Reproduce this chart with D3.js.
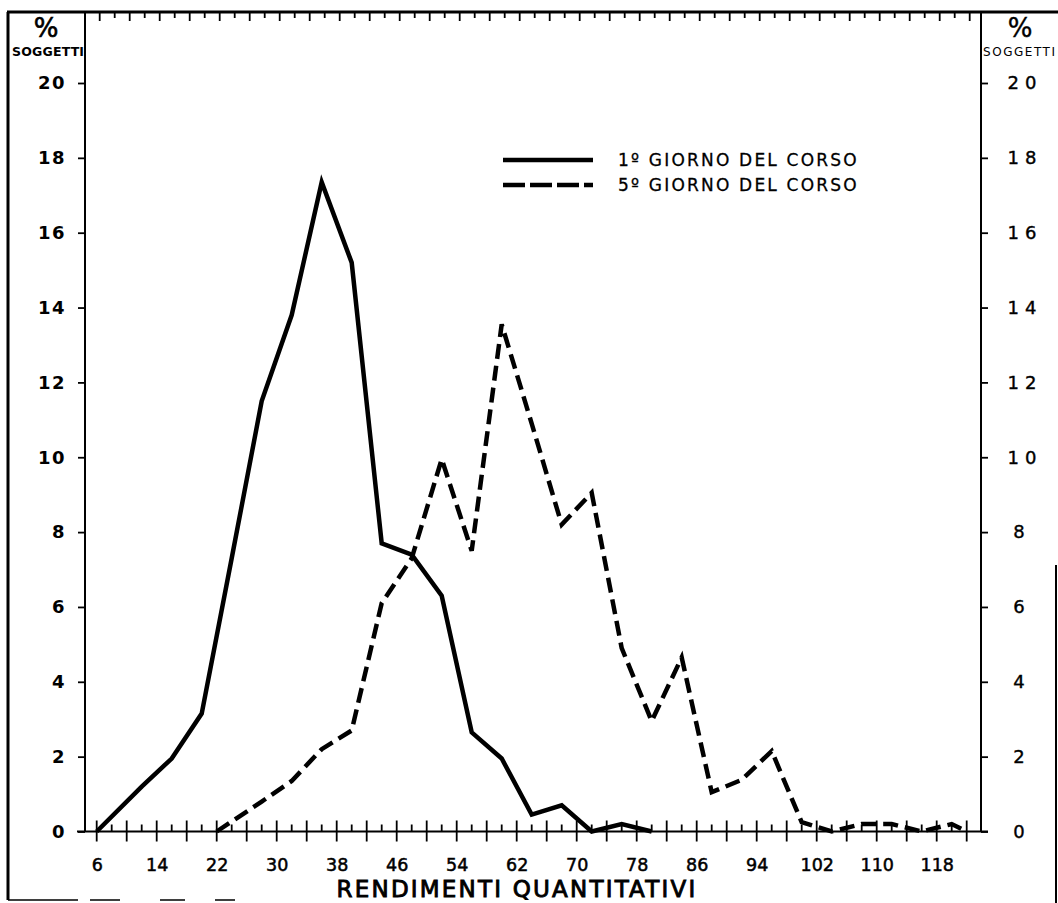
<!DOCTYPE html>
<html>
<head>
  <meta charset="utf-8">
  <title>Rendimenti quantitativi</title>
  <script src="https://d3js.org/d3.v7.min.js"></script>
  <style>
    body { margin: 0; background: #fff; }
    svg { display: block; }
    text { font-family: "DejaVu Sans", sans-serif; fill: #000; }
  </style>
</head>
<body>
<div id="chart"></div>
<script>
// data: % of subjects per score class
var giorno1X = [6, 12, 16, 20, 24, 28, 32, 36, 40, 44, 48, 52, 56, 60, 64, 68, 72, 76, 80];
var giorno1Y = [0, 1.2, 1.95, 3.15, 7.3, 11.5, 13.8, 17.35, 15.2, 7.7, 7.4, 6.3, 2.65, 1.95, 0.45, 0.7, 0, 0.2, 0];

var giorno5X = [22, 28, 32, 36, 40, 44, 48, 52, 56, 60, 64, 68, 72, 76, 80, 84, 88, 92, 96, 100, 104, 108, 112, 116, 120, 122];
var giorno5Y = [0, 0.8, 1.35, 2.2, 2.7, 6.1, 7.3, 9.95, 7.5, 13.55, 10.9, 8.2, 9.05, 4.9, 2.95, 4.65, 1.05, 1.38, 2.15, 0.25, 0, 0.2, 0.2, 0, 0.2, 0];

var xLabels = [6, 14, 22, 30, 38, 46, 54, 62, 70, 78, 86, 94, 102, 110, 118];
var yLabels = [0, 2, 4, 6, 8, 10, 12, 14, 16, 18, 20];
var legendNames = ["1º GIORNO DEL CORSO", "5º GIORNO DEL CORSO"];

var W = 1058, H = 903;
var svg = d3.select("#chart").append("svg")
  .attr("width", W).attr("height", H);

var x = d3.scaleLinear().domain([6, 122]).range([96.7, 966.7]);
var y = d3.scaleLinear().domain([0, 20]).range([831.5, 83]);

var leftX = 85, rightX = 981, topY = 12;

// outer frame (scan edges)
svg.append("line").attr("x1", 8).attr("y1", topY).attr("x2", 8).attr("y2", 900)
  .attr("stroke", "#000").attr("stroke-width", 3);
svg.append("line").attr("x1", 7).attr("y1", topY).attr("x2", W).attr("y2", topY)
  .attr("stroke", "#000").attr("stroke-width", 3);
svg.append("line").attr("x1", 8).attr("y1", 900).attr("x2", 300).attr("y2", 900)
  .attr("stroke", "#000").attr("stroke-width", 1.5).attr("stroke-dasharray", "70,12,30,40,25,30,20");
svg.append("line").attr("x1", 1056).attr("y1", 565).attr("x2", 1056).attr("y2", H)
  .attr("stroke", "#000").attr("stroke-width", 2);

// vertical axes lines
svg.append("line").attr("x1", leftX).attr("y1", topY).attr("x2", leftX).attr("y2", y(0))
  .attr("stroke", "#000").attr("stroke-width", 2);
svg.append("line").attr("x1", rightX).attr("y1", topY).attr("x2", rightX).attr("y2", y(0))
  .attr("stroke", "#000").attr("stroke-width", 2);

// x axis baseline
svg.append("line").attr("x1", 77).attr("y1", y(0)).attr("x2", 988).attr("y2", y(0))
  .attr("stroke", "#000").attr("stroke-width", 2);

// x ticks every 2 units, tall every 4
var xTicks = d3.range(6, 123, 2);
svg.selectAll(".xtick").data(xTicks).enter().append("line")
  .attr("class", "xtick")
  .attr("x1", function (d) { return x(d); })
  .attr("x2", function (d) { return x(d); })
  .attr("y1", function (d) { return (d - 6) % 4 === 0 ? y(0) - 11 : y(0) - 7; })
  .attr("y2", function (d) { return (d - 6) % 4 === 0 ? y(0) + 10 : y(0); })
  .attr("stroke", "#000").attr("stroke-width", 1.8);

// top edge ticks
svg.selectAll(".ttick").data(xTicks).enter().append("line")
  .attr("class", "ttick")
  .attr("x1", function (d) { return x(d) + 3; })
  .attr("x2", function (d) { return x(d) + 3; })
  .attr("y1", topY)
  .attr("y2", function (d) { return (d - 6) % 4 === 0 ? topY + 9 : topY + 6; })
  .attr("stroke", "#000").attr("stroke-width", 1.8);

// x labels
svg.append("g")
  .attr("transform", "translate(0," + y(0) + ")")
  .call(d3.axisBottom(x).tickValues(xLabels).tickSize(0).tickPadding(27))
  .call(function (g) {
    g.select(".domain").remove();
    g.selectAll("text").attr("font-size", 17.5).attr("font-family", "DejaVu Sans")
      .attr("fill", "#000").attr("stroke", "#000").attr("stroke-width", 0.5);
  });

// left y axis
svg.append("g")
  .attr("transform", "translate(" + leftX + ",0)")
  .call(d3.axisLeft(y).tickValues(yLabels).tickSize(7).tickPadding(12))
  .call(function (g) {
    g.select(".domain").remove();
    g.selectAll("line").attr("stroke", "#000").attr("stroke-width", 1.8);
    g.selectAll("text").attr("font-size", 18).attr("font-weight", "bold")
      .attr("letter-spacing", 1.5).attr("font-family", "DejaVu Sans").attr("fill", "#000");
  });

// right y axis
svg.append("g")
  .attr("transform", "translate(" + rightX + ",0)")
  .call(d3.axisRight(y).tickValues(yLabels).tickSize(7).tickPadding(20))
  .call(function (g) {
    g.select(".domain").remove();
    g.selectAll("line").attr("stroke", "#000").attr("stroke-width", 1.8);
    g.selectAll("text").attr("font-size", 18).attr("letter-spacing", 6)
      .attr("text-anchor", "middle")
      .attr("x", function (d) { return d >= 10 ? 44 : 41; })
      .attr("font-family", "DejaVu Sans").attr("fill", "#000")
      .attr("stroke", "#000").attr("stroke-width", 0.4);
  });

// axis titles
svg.append("text").attr("x", 46).attr("y", 37).attr("text-anchor", "middle")
  .attr("font-size", 26).attr("stroke", "#000").attr("stroke-width", 0.6).text("%");
svg.append("text").attr("x", 48).attr("y", 56).attr("text-anchor", "middle")
  .attr("font-size", 12.5).attr("font-weight", "bold").attr("textLength", 72)
  .text("SOGGETTI");
svg.append("text").attr("x", 1020).attr("y", 37).attr("text-anchor", "middle")
  .attr("font-size", 26).attr("stroke", "#000").attr("stroke-width", 0.4).text("%");
svg.append("text").attr("x", 983).attr("y", 56)
  .attr("font-size", 12).attr("textLength", 72)
  .text("SOGGETTI");
svg.append("text").attr("x", 517).attr("y", 897).attr("text-anchor", "middle")
  .attr("font-size", 23).attr("letter-spacing", 2.2)
  .attr("stroke", "#000").attr("stroke-width", 0.9)
  .text("RENDIMENTI  QUANTITATIVI");

// curves
var line = d3.line()
  .x(function (d) { return x(d[0]); })
  .y(function (d) { return y(d[1]); });

svg.append("path")
  .datum(d3.zip(giorno1X, giorno1Y))
  .attr("fill", "none").attr("stroke", "#000").attr("stroke-width", 4.5)
  .attr("stroke-linejoin", "miter")
  .attr("d", line);

svg.append("path")
  .datum(d3.zip(giorno5X, giorno5Y))
  .attr("fill", "none").attr("stroke", "#000").attr("stroke-width", 4.5)
  .attr("stroke-dasharray", "15,7")
  .attr("stroke-linejoin", "miter")
  .attr("d", line);

// legend
var legend = svg.append("g").attr("transform", "translate(503,160)");
legendNames.forEach(function (name, i) {
  legend.append("line")
    .attr("x1", 0).attr("x2", 90).attr("y1", i * 25).attr("y2", i * 25)
    .attr("stroke", "#000").attr("stroke-width", 4.5)
    .attr("stroke-dasharray", i === 0 ? null : "22,5");
  legend.append("text")
    .attr("x", 115).attr("y", i * 25 + 6)
    .attr("font-size", 17).attr("letter-spacing", 2.2)
    .attr("stroke", "#000").attr("stroke-width", 0.3)
    .text(name);
});
</script>
</body>
</html>
